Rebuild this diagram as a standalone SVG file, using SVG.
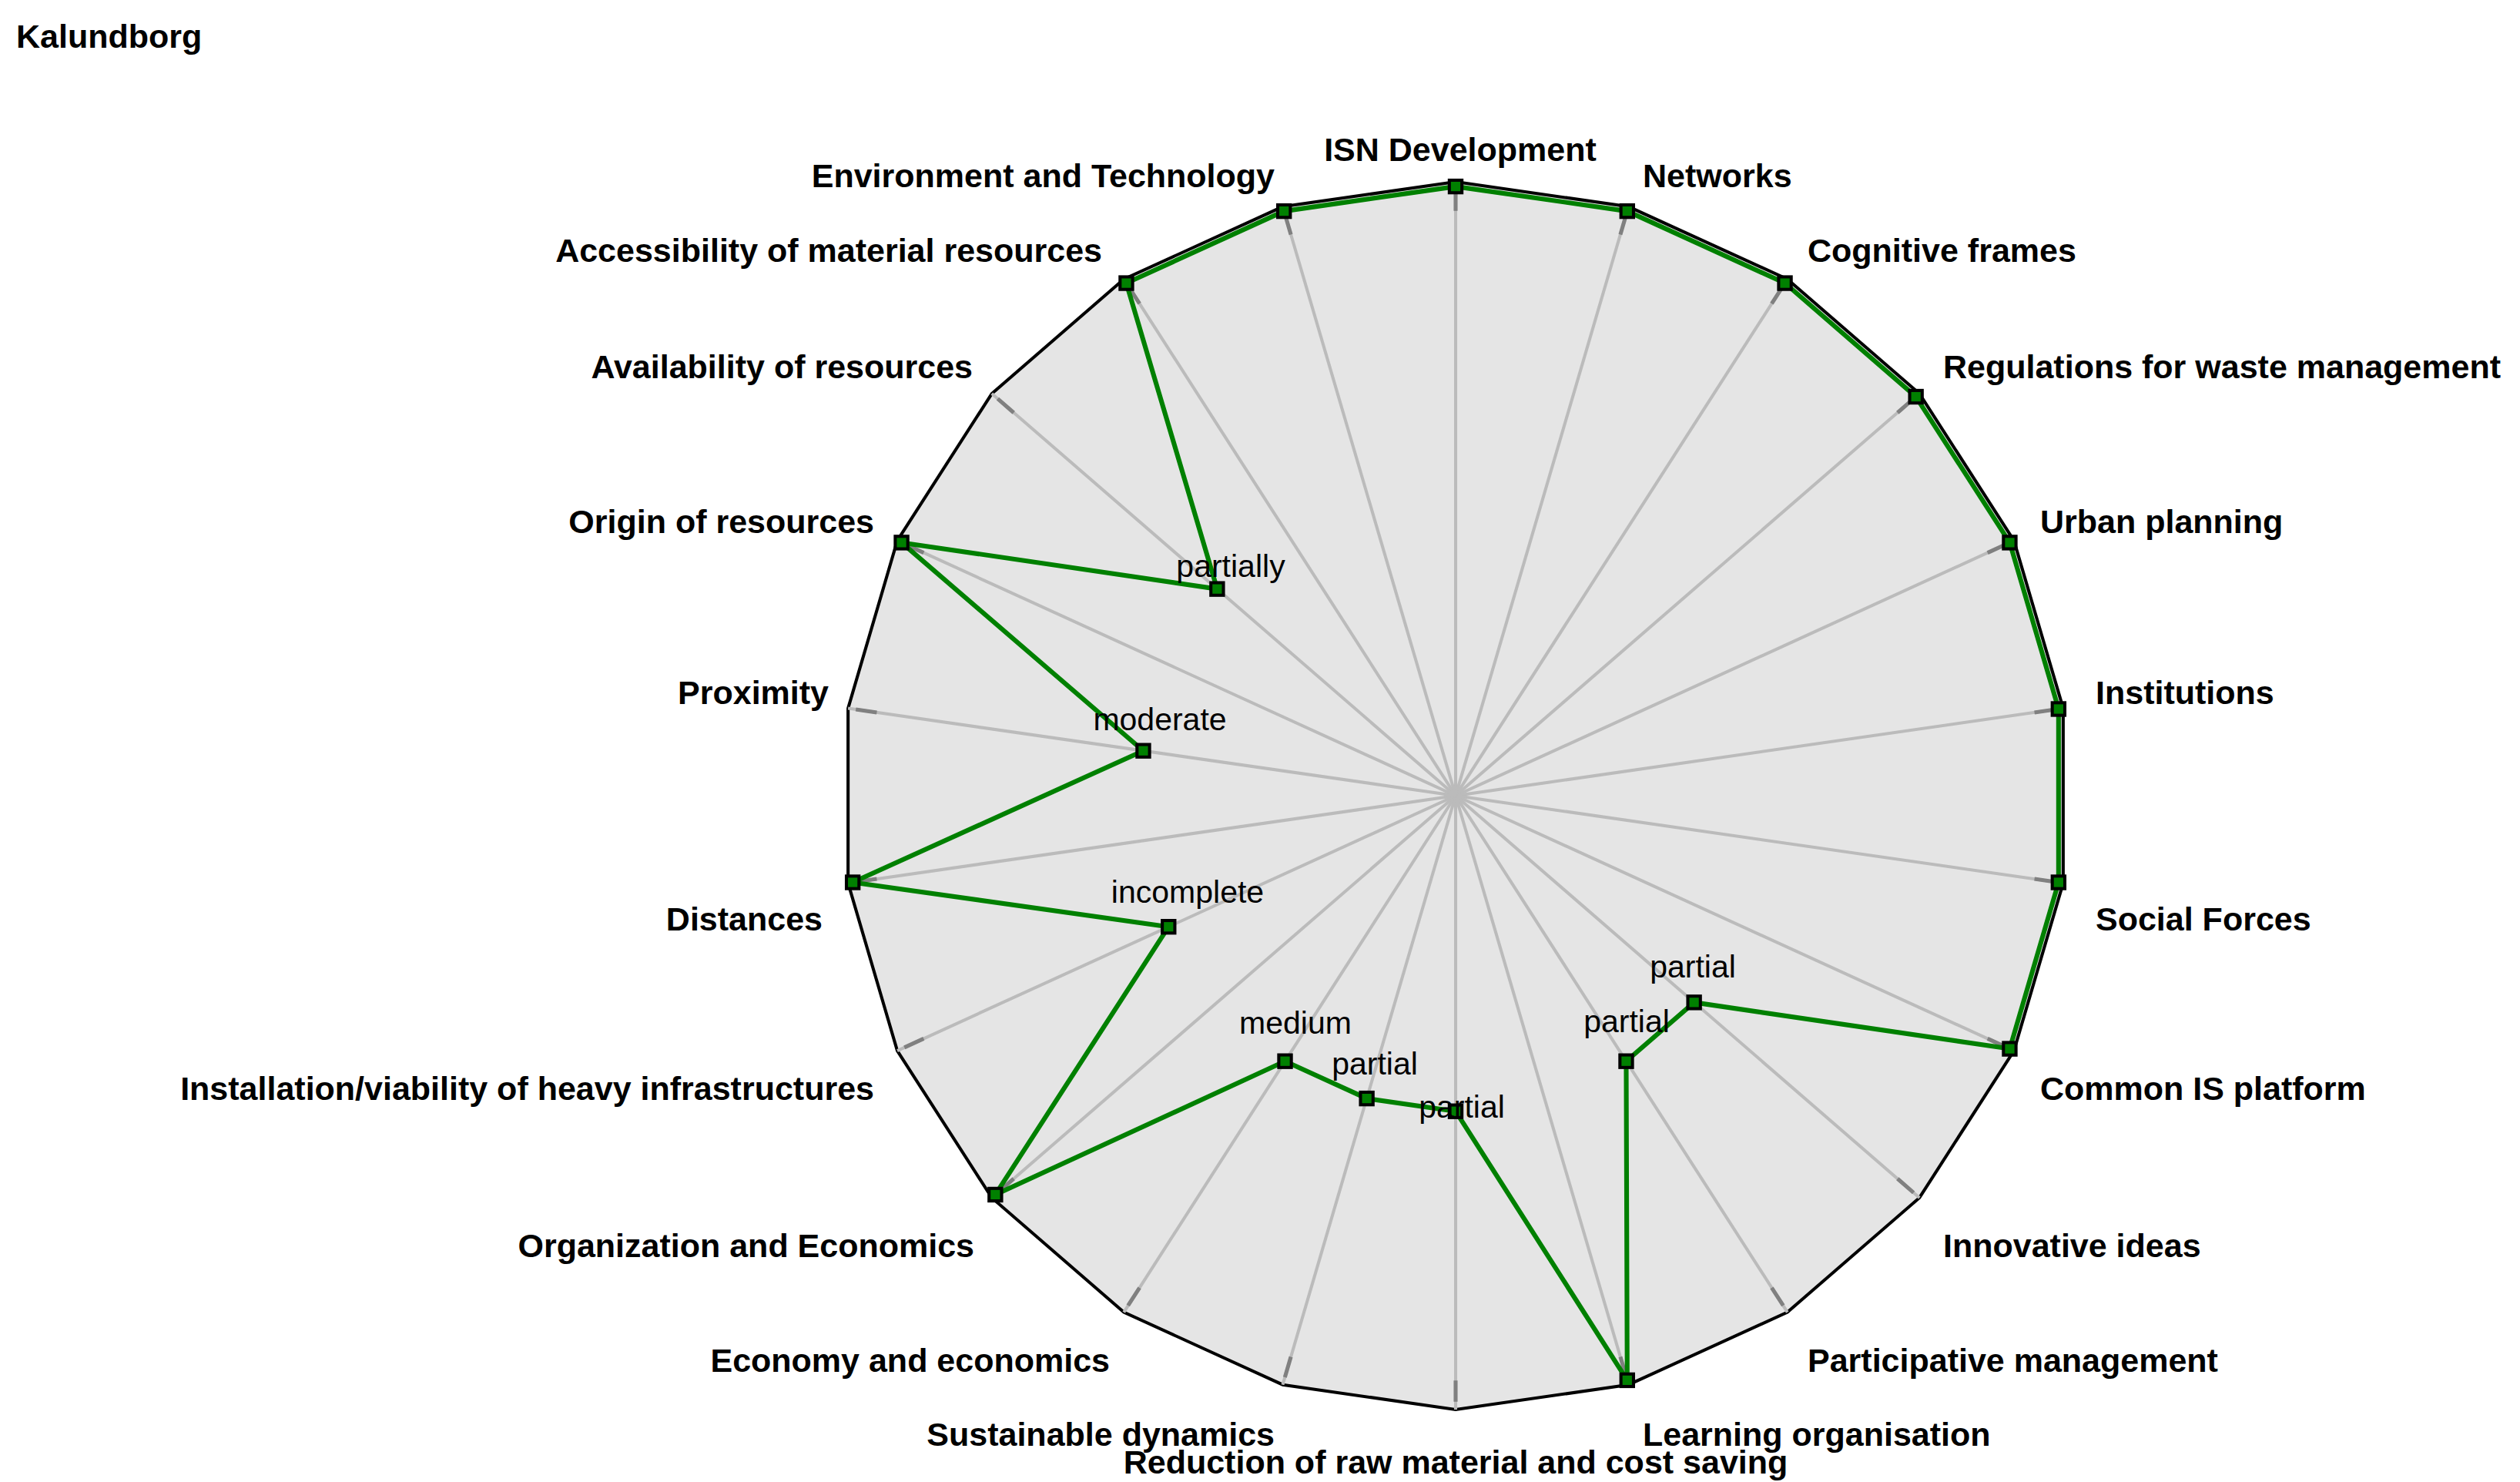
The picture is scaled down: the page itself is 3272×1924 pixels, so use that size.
<svg xmlns="http://www.w3.org/2000/svg" width="3272" height="1924" viewBox="0 0 3272 1924">
<style>
.lab{font-family:"Liberation Sans",Arial,sans-serif;font-weight:bold;font-size:43px;fill:#000}
.val{font-family:"Liberation Sans",Arial,sans-serif;font-size:41px;fill:#000;text-anchor:middle}
.e{text-anchor:end}.s{text-anchor:start}.m{text-anchor:middle}
.ax{stroke:#bbbbbb;stroke-width:4}
.tk{stroke:#808080;stroke-width:5;stroke-dasharray:0 745 27 300}
.pt{fill:#008000;stroke:#000;stroke-width:4}
</style>
<defs>
<g id="axes">
<line x1="1898" y1="1028" x2="1898" y2="246"/><line x1="1898" y1="1028" x2="2118.3" y2="277.7"/><line x1="1898" y1="1028" x2="2320.7" y2="370.1"/><line x1="1898" y1="1028" x2="2488.9" y2="515.9"/><line x1="1898" y1="1028" x2="2609.3" y2="703.2"/><line x1="1898" y1="1028" x2="2672" y2="916.7"/><line x1="1898" y1="1028" x2="2672" y2="1139.3"/><line x1="1898" y1="1028" x2="2609.3" y2="1352.8"/><line x1="1898" y1="1028" x2="2488.9" y2="1540.1"/><line x1="1898" y1="1028" x2="2320.7" y2="1685.9"/><line x1="1898" y1="1028" x2="2118.3" y2="1778.3"/><line x1="1898" y1="1028" x2="1898" y2="1810"/><line x1="1898" y1="1028" x2="1677.7" y2="1778.3"/><line x1="1898" y1="1028" x2="1475.3" y2="1685.9"/><line x1="1898" y1="1028" x2="1307.1" y2="1540.1"/><line x1="1898" y1="1028" x2="1186.7" y2="1352.8"/><line x1="1898" y1="1028" x2="1124" y2="1139.3"/><line x1="1898" y1="1028" x2="1124" y2="916.7"/><line x1="1898" y1="1028" x2="1186.7" y2="703.2"/><line x1="1898" y1="1028" x2="1307.1" y2="515.9"/><line x1="1898" y1="1028" x2="1475.3" y2="370.1"/><line x1="1898" y1="1028" x2="1677.7" y2="277.7"/>
</g>
</defs>
<rect width="3272" height="1924" fill="#fff"/>
<text class="lab" x="21" y="62">Kalundborg</text>
<g transform="translate(1890,1033) scale(1.0192) translate(-1898,-1028)">
<g id="grid">
<polygon points="1898,246 2118.3,277.7 2320.7,370.1 2488.9,515.9 2609.3,703.2 2672,916.7 2672,1139.3 2609.3,1352.8 2488.9,1540.1 2320.7,1685.9 2118.3,1778.3 1898,1810 1677.7,1778.3 1475.3,1685.9 1307.1,1540.1 1186.7,1352.8 1124,1139.3 1124,916.7 1186.7,703.2 1307.1,515.9 1475.3,370.1 1677.7,277.7" fill="#e5e5e5" stroke="#000" stroke-width="4"/>
</g>
<g id="connectors">
<use href="#axes" class="ax" stroke="#bbbbbb" stroke-width="4"/>
<use href="#axes" class="tk" stroke="#808080" stroke-width="5" stroke-dasharray="0 745 27 300"/>
<polygon points="1898,252 2116.6,283.4 2317.5,375.1 2484.4,519.8 2603.9,705.6 2666.1,917.6 2666.1,1138.4 2603.9,1350.4 2201.8,1291.3 2115.3,1366.2 2116.6,1772.6 1898,1430 1784.8,1413.7 1680.7,1366.2 1311.6,1536.2 1532.3,1195 1129.9,1138.4 1500.1,970.8 1192.1,705.6 1594.2,764.7 1478.5,375.1 1679.4,283.4" fill="none" stroke="#008000" stroke-width="6" stroke-linejoin="round"/>
</g>
<g id="points">
<rect class="pt" x="1890" y="244" width="16" height="16"/><rect class="pt" x="2108.6" y="275.4" width="16" height="16"/><rect class="pt" x="2309.5" y="367.1" width="16" height="16"/><rect class="pt" x="2476.4" y="511.8" width="16" height="16"/><rect class="pt" x="2595.9" y="697.6" width="16" height="16"/><rect class="pt" x="2658.1" y="909.6" width="16" height="16"/><rect class="pt" x="2658.1" y="1130.4" width="16" height="16"/><rect class="pt" x="2595.9" y="1342.4" width="16" height="16"/><rect class="pt" x="2193.8" y="1283.3" width="16" height="16"/><rect class="pt" x="2107.3" y="1358.2" width="16" height="16"/><rect class="pt" x="2108.6" y="1764.6" width="16" height="16"/><rect class="pt" x="1890" y="1422" width="16" height="16"/><rect class="pt" x="1776.8" y="1405.7" width="16" height="16"/><rect class="pt" x="1672.7" y="1358.2" width="16" height="16"/><rect class="pt" x="1303.6" y="1528.2" width="16" height="16"/><rect class="pt" x="1524.3" y="1187" width="16" height="16"/><rect class="pt" x="1121.9" y="1130.4" width="16" height="16"/><rect class="pt" x="1492.1" y="962.8" width="16" height="16"/><rect class="pt" x="1184.1" y="697.6" width="16" height="16"/><rect class="pt" x="1586.2" y="756.7" width="16" height="16"/><rect class="pt" x="1470.5" y="367.1" width="16" height="16"/><rect class="pt" x="1671.4" y="275.4" width="16" height="16"/>
</g>
</g>
<g id="labels" transform="translate(-8,4)">
<text class="lab m" x="1904" y="205">ISN Development</text>
<text class="lab s" x="2141" y="239">Networks</text>
<text class="lab s" x="2355" y="336">Cognitive frames</text>
<text class="lab s" x="2531" y="487">Regulations for waste management</text>
<text class="lab s" x="2657" y="688">Urban planning</text>
<text class="lab s" x="2729" y="910">Institutions</text>
<text class="lab s" x="2729" y="1204">Social Forces</text>
<text class="lab s" x="2657" y="1424">Common IS platform</text>
<text class="lab s" x="2531" y="1628">Innovative ideas</text>
<text class="lab s" x="2355" y="1777">Participative management</text>
<text class="lab s" x="2141" y="1873">Learning organisation</text>
<text class="lab m" x="1898" y="1909">Reduction of raw material and cost saving</text>
<text class="lab e" x="1663" y="1873">Sustainable dynamics</text>
<text class="lab e" x="1449" y="1777">Economy and economics</text>
<text class="lab e" x="1273" y="1628">Organization and Economics</text>
<text class="lab e" x="1143" y="1424">Installation/viability of heavy infrastructures</text>
<text class="lab e" x="1076" y="1204">Distances</text>
<text class="lab e" x="1084" y="910">Proximity</text>
<text class="lab e" x="1143" y="688">Origin of resources</text>
<text class="lab e" x="1271" y="487">Availability of resources</text>
<text class="lab e" x="1439" y="336">Accessibility of material resources</text>
<text class="lab e" x="1663" y="239">Environment and Technology</text>
</g>
<g id="values" transform="translate(-8,4)">
<text class="val" x="1606" y="745">partially</text>
<text class="val" x="1514" y="944">moderate</text>
<text class="val" x="1550" y="1168">incomplete</text>
<text class="val" x="1690" y="1338">medium</text>
<text class="val" x="1793" y="1391">partial</text>
<text class="val" x="1906" y="1447">partial</text>
<text class="val" x="2120" y="1336">partial</text>
<text class="val" x="2206" y="1265">partial</text>
</g>
</svg>
